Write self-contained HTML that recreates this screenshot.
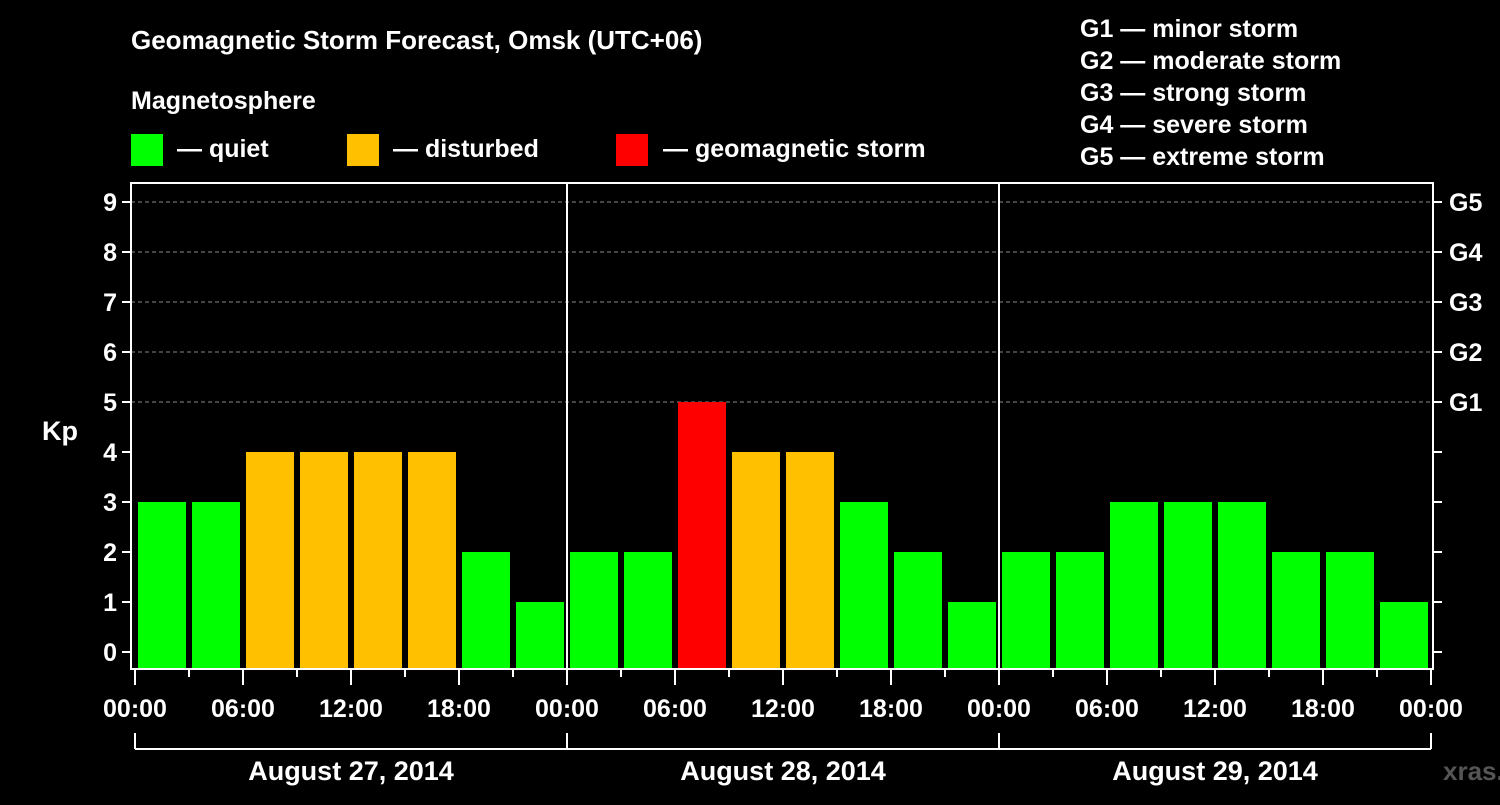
<!DOCTYPE html>
<html><head><meta charset="utf-8"><style>
body{margin:0;background:#000;width:1500px;height:800px;overflow:hidden}
svg text{font-family:"Liberation Sans",Arial,sans-serif;font-weight:bold;fill:#fff}
</style></head><body>
<svg id="c" width="1500" height="800" xmlns="http://www.w3.org/2000/svg">
<text x="131" y="49" font-size="26">Geomagnetic Storm Forecast, Omsk (UTC+06)</text>
<text x="131" y="109" font-size="25">Magnetosphere</text>
<g>
<rect x="131" y="134" width="32" height="32" fill="#00ff00"/>
<text x="177" y="157" font-size="25">— quiet</text>
<rect x="347" y="134" width="32" height="32" fill="#ffc000"/>
<text x="393" y="157" font-size="25">— disturbed</text>
<rect x="616" y="134" width="32" height="32" fill="#ff0000"/>
<text x="663" y="157" font-size="25">— geomagnetic storm</text>
</g>
<g font-size="25">
<text x="1080" y="37">G1 — minor storm</text>
<text x="1080" y="69">G2 — moderate storm</text>
<text x="1080" y="101">G3 — strong storm</text>
<text x="1080" y="133">G4 — severe storm</text>
<text x="1080" y="165">G5 — extreme storm</text>
</g>
<text x="42" y="440" font-size="27">Kp</text>
<text x="1443" y="780" font-size="26" fill="#555" style="fill:#555">xras.ru</text>
<g id="plot"></g>
</svg>
<script>
const kpValues=[3,3,4,4,4,4,2,1, 2,2,5,4,4,3,2,1, 2,2,3,3,3,2,2,1];
const dayLabels=["August 27, 2014","August 28, 2014","August 29, 2014"];
const hourLabels=["00:00","06:00","12:00","18:00"];
const gLabels=["G1","G2","G3","G4","G5"];
const NS="http://www.w3.org/2000/svg";
const g=document.getElementById('plot');
const L=131,R=1433,T=183,B=669;
const x0=135,pxPerHour=18;
function xs(h){return x0+h*pxPerHour;}
function ys(v){return 652-v*50;}
function mk(t,a,p){const e=document.createElementNS(NS,t);for(const k in a)e.setAttribute(k,a[k]);(p||g).appendChild(e);return e;}
// grid
for(let v=5;v<=9;v++){
 const e=mk('line',{x1:L,x2:R,y1:ys(v),y2:ys(v),stroke:'#888','stroke-width':1,'stroke-dasharray':'4,3'});
 
 
}
// bars
kpValues.forEach((v,i)=>{
 const col=v>=5?'#ff0000':(v>=4?'#ffc000':'#00ff00');
 const e=mk('rect',{x:xs(i*3)+3,y:ys(v),width:48,height:B-ys(v),fill:col});
 
 
});
// frame
const fr=mk('rect',{x:L,y:T,width:R-L,height:B-T,fill:'none',stroke:'#fff','stroke-width':2});


for(let d=1;d<dayLabels.length;d++){
 const e=mk('line',{x1:xs(d*24),x2:xs(d*24),y1:T,y2:B,stroke:'#fff','stroke-width':2});
 
 
}
// y ticks
for(let v=0;v<=9;v++){
 mk('line',{x1:L-9,x2:L,y1:ys(v),y2:ys(v),stroke:'#fff','stroke-width':2});
 mk('line',{x1:R,x2:R+9,y1:ys(v),y2:ys(v),stroke:'#fff','stroke-width':2});
 const t=mk('text',{x:L-14,y:ys(v)+9,'font-size':25,'text-anchor':'end'});
 t.textContent=v;
 
 
}
gLabels.forEach((s,i)=>{
 const t=mk('text',{x:R+16,y:ys(5+i)+9,'font-size':25});
 t.textContent=s;
 
 
});
// x ticks
const total=dayLabels.length*24;
for(let h=0;h<=total;h+=3){
 const major=h%6===0;
 mk('line',{x1:xs(h),x2:xs(h),y1:B,y2:major?685:677,stroke:'#fff','stroke-width':2});
 if(major){
  const t=mk('text',{x:xs(h),y:717,'font-size':25,'text-anchor':'middle'});
  t.textContent=hourLabels[(h/6)%4];
  
  
 }
}
// day brackets
mk('line',{x1:xs(0),x2:xs(total),y1:749,y2:749,stroke:'#fff','stroke-width':2});
for(let d=0;d<=dayLabels.length;d++)mk('line',{x1:xs(d*24),x2:xs(d*24),y1:733,y2:749,stroke:'#fff','stroke-width':2});
dayLabels.forEach((s,d)=>{
 const t=mk('text',{x:xs(d*24+12),y:780,'font-size':27,'text-anchor':'middle'});
 t.textContent=s;
 
 
});
</script>
</body></html>
